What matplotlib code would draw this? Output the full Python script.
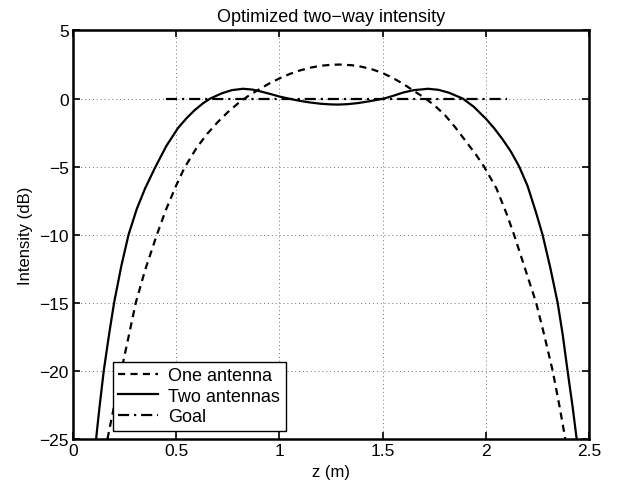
import numpy as np
import matplotlib.pyplot as plt

plt.rcParams['font.family'] = ['Liberation Sans', 'DejaVu Sans']
plt.rcParams['font.size'] = 12

# 读图估计的数据 (z 单位 m, 强度 dB)
z_one = [0.168, 0.20, 0.232, 0.27, 0.305, 0.35, 0.407, 0.45, 0.50, 0.54,
         0.60, 0.65, 0.70, 0.75, 0.80, 0.85, 0.90, 0.95, 1.00, 1.05,
         1.10, 1.15, 1.20, 1.25, 1.29, 1.35, 1.40, 1.45, 1.50, 1.55,
         1.60, 1.65, 1.70, 1.75, 1.80, 1.85, 1.90, 1.95, 1.99, 2.05,
         2.10, 2.135, 2.18, 2.242, 2.28, 2.322, 2.355, 2.383]
db_one = [-25, -22.6, -20.2, -17.5, -15, -12.6, -10, -8.2, -6.4, -5.1,
          -3.6, -2.6, -1.75, -1.0, -0.35, 0.2, 0.66, 1.1, 1.48, 1.81,
          2.07, 2.27, 2.41, 2.48, 2.5, 2.45, 2.33, 2.14, 1.87, 1.5,
          1.07, 0.56, 0.08, -0.5, -1.2, -2.1, -3.1, -4.1, -5.0, -6.6,
          -8.5, -10, -12.1, -15, -17.3, -20, -22.6, -25]

z_two = [0.113, 0.13, 0.15, 0.175, 0.20, 0.235, 0.27, 0.31, 0.35, 0.399,
         0.454, 0.51, 0.55, 0.59, 0.63, 0.665, 0.72, 0.77, 0.824, 0.87,
         0.913, 0.96, 1.00, 1.05, 1.10, 1.15, 1.20, 1.25, 1.285, 1.33,
         1.38, 1.43, 1.47, 1.51, 1.55, 1.60, 1.65, 1.72, 1.77, 1.82,
         1.887, 1.94, 2.00, 2.04, 2.08, 2.12, 2.16, 2.20, 2.24, 2.273,
         2.31, 2.346, 2.37, 2.394, 2.418, 2.438]
db_two = [-25, -22.6, -20, -17.4, -15, -12.3, -10, -8.1, -6.6, -5.05,
          -3.45, -2.15, -1.45, -0.85, -0.35, 0.0, 0.38, 0.62, 0.72, 0.66,
          0.51, 0.32, 0.15, -0.02, -0.17, -0.29, -0.38, -0.43, -0.44, -0.41,
          -0.33, -0.21, -0.1, 0.02, 0.2, 0.45, 0.62, 0.72, 0.64, 0.43,
          0.0, -0.6, -1.5, -2.2, -3.0, -3.9, -5.0, -6.4, -8.3, -10,
          -12.4, -15, -17.3, -20, -22.6, -25]

z_goal = [0.45, 2.1]
db_goal = [0, 0]

xticks = [0, 0.5, 1, 1.5, 2, 2.5]
yticks = [5, 0, -5, -10, -15, -20, -25]

fig = plt.figure(figsize=(6.2, 4.89), dpi=100)
ax = fig.add_axes([0.1173, 0.1002, 0.8335, 0.8354])

lw = 1.6
ax.plot(z_one, db_one, color='black', lw=lw, linestyle=(0, (3.2, 2.4)), label='One antenna')
ax.plot(z_two, db_two, color='black', lw=lw, linestyle='-', label='Two antennas')
ax.plot(z_goal, db_goal, color='black', lw=lw, linestyle=(0, (5, 2.2, 1, 2.2)), label='Goal')

ax.set_xlim(0, 2.5)
ax.set_ylim(-25, 5)
ax.set_xticks(xticks)
ax.set_xticklabels(['0', '0.5', '1', '1.5', '2', '2.5'], fontsize=12.5)
ax.set_yticks(yticks)
ax.set_yticklabels([str(t).replace('-', '\u2212') for t in yticks], fontsize=12.5)

ax.grid(True, color='0.45', linestyle=(0, (1, 3)), linewidth=0.7)
ax.tick_params(direction='in', top=True, right=True, length=5, width=1.2, pad=3)
for s in ax.spines.values():
    s.set_linewidth(1.8)

ax.set_title('Optimized two\u2212way intensity', fontsize=13, pad=7)
ax.set_xlabel('z (m)', labelpad=4)
ax.set_ylabel('Intensity (dB)', labelpad=4)

leg = ax.legend(loc='lower left', bbox_to_anchor=(0.077, 0.02), fancybox=False,
                framealpha=1, edgecolor='black', borderaxespad=0, fontsize=13,
                handlelength=2.2, labelspacing=0.2, borderpad=0.3, handletextpad=0.6)
leg.get_frame().set_linewidth(1.0)

fig.savefig('out.png', dpi=100)
